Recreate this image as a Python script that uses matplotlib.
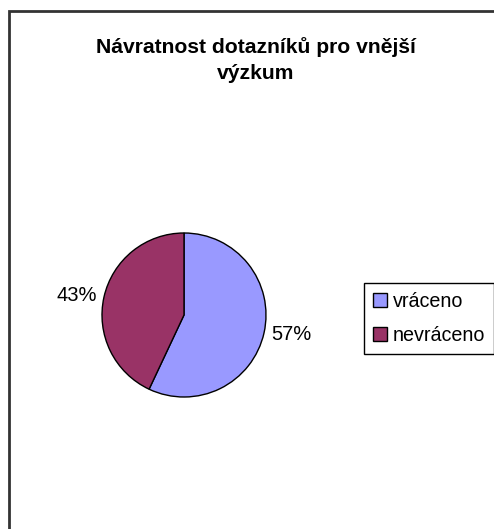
import numpy as np
import matplotlib
matplotlib.use('Agg')
import matplotlib.pyplot as plt
from matplotlib.patches import Rectangle

plt.rcParams['font.family'] = ['Liberation Sans', 'DejaVu Sans']

# Data
labels = ['vráceno', 'nevráceno']
values = [57, 43]
colors = ['#9999FF', '#993366']
title = 'Návratnost dotazníků pro vnější\nvýzkum'

W, H = 494, 529
fig = plt.figure(figsize=(W / 100, H / 100), dpi=100)

# chart frame (only left and top edge are visible in the crop)
fig.patches.append(Rectangle((9 / W, -0.5), 2, 1.5 - 10.5 / H, transform=fig.transFigure,
                             fill=False, edgecolor='#333333', linewidth=2))

# pie axes: centre (184, 315) px, radius 82 px
cx, cy, r = 184, 315, 82
ax = fig.add_axes([(cx - r) / W, (H - cy - r) / H, 2 * r / W, 2 * r / H])
wedges, _ = ax.pie(values, colors=colors, startangle=90, counterclock=False,
                   wedgeprops=dict(edgecolor='black', linewidth=1))
ax.set_xlim(-1, 1)
ax.set_ylim(-1, 1)
ax.set_aspect('equal')

# percentage labels outside the slices
for w, v in zip(wedges, values):
    ang = np.deg2rad((w.theta1 + w.theta2) / 2)
    x, y = 1.09 * np.cos(ang), 1.09 * np.sin(ang)
    ax.text(x, y, f'{v}%', ha='left' if x > 0 else 'right', va='center', fontsize=14.5)

fig.text(256 / W, 1 - 37 / H, title, ha='center', va='top', fontsize=15.2,
         fontweight='bold', linespacing=1.5)

leg = fig.legend(wedges, labels, loc='upper left', bbox_to_anchor=(364 / W, 1 - 283 / H),
                 borderaxespad=0, fancybox=False, fontsize=14.2, handlelength=0.7,
                 handleheight=0.7, handletextpad=0.3, labelspacing=0.75,
                 borderpad=0.45, framealpha=1)
leg.get_frame().set_edgecolor('black')
leg.get_frame().set_linewidth(1)

fig.savefig('out.png', dpi=100)
